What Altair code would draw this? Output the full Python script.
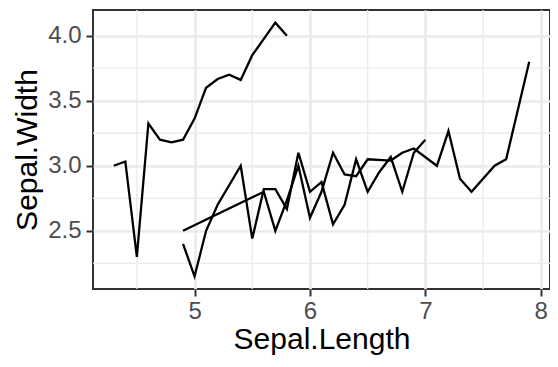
import altair as alt
import pandas as pd

# Mean Sepal.Width per Sepal.Length, by species (iris)
setosa_x = [4.3, 4.4, 4.5, 4.6, 4.7, 4.8, 4.9, 5.0, 5.1, 5.2, 5.3, 5.4, 5.5, 5.7, 5.8]
setosa_y = [3.0, 3.033, 2.3, 3.325, 3.2, 3.18, 3.2, 3.3625, 3.6, 3.667, 3.7, 3.66, 3.85, 4.1, 4.0]

versicolor_x = [4.9, 5.0, 5.1, 5.2, 5.4, 5.5, 5.6, 5.7, 5.8, 5.9, 6.0, 6.1, 6.2, 6.3, 6.4,
                6.5, 6.6, 6.7, 6.8, 6.9, 7.0]
versicolor_y = [2.4, 2.15, 2.5, 2.7, 3.0, 2.44, 2.82, 2.82, 2.667, 3.1, 2.8, 2.875, 2.55, 2.7, 3.05,
                2.8, 2.95, 3.067, 2.8, 3.1, 3.2]

virginica_x = [4.9, 5.6, 5.7, 5.8, 5.9, 6.0, 6.1, 6.2, 6.3, 6.4, 6.5, 6.7, 6.8, 6.9, 7.1,
               7.2, 7.3, 7.4, 7.6, 7.7, 7.9]
virginica_y = [2.5, 2.8, 2.5, 2.733, 3.0, 2.6, 2.8, 3.1, 2.933, 2.92, 3.05, 3.04, 3.1, 3.133, 3.0,
               3.267, 2.9, 2.8, 3.0, 3.05, 3.8]

x_ticks = [5, 6, 7, 8]
y_ticks = [2.5, 3.0, 3.5, 4.0]
minor_x = [4.5, 5.5, 6.5, 7.5]
minor_y = [2.25, 2.75, 3.25, 3.75]

rows = []
for name, xs, ys in [("setosa", setosa_x, setosa_y),
                     ("versicolor", versicolor_x, versicolor_y),
                     ("virginica", virginica_x, virginica_y)]:
    for a, b in zip(xs, ys):
        rows.append({"Species": name, "SL": a, "SW": b})
df = pd.DataFrame(rows)

xdom = [4.12, 8.08]
ydom = [2.0525, 4.1975]

xscale = alt.Scale(domain=xdom, nice=False, zero=False)
yscale = alt.Scale(domain=ydom, nice=False, zero=False)

lines = alt.Chart(df).mark_line(color="black", strokeWidth=2.3, clip=True).encode(
    x=alt.X("SL:Q", scale=xscale,
            axis=alt.Axis(values=x_ticks, title="Sepal.Length", format="d",
                          labelPadding=3, titlePadding=1)),
    y=alt.Y("SW:Q", scale=yscale,
            axis=alt.Axis(values=y_ticks, title="Sepal.Width", format=".1f",
                          labelPadding=5, titlePadding=5)),
    detail="Species:N",
)

mx = alt.Chart(pd.DataFrame({"v": minor_x})).mark_rule(color="#EBEBEB", strokeWidth=1.3).encode(
    x=alt.X("v:Q", scale=xscale)
)
my = alt.Chart(pd.DataFrame({"v": minor_y})).mark_rule(color="#EBEBEB", strokeWidth=1.3).encode(
    y=alt.Y("v:Q", scale=yscale)
)

chart = alt.layer(mx, my, lines).properties(
    width=457, height=279,
    padding={"left": 85, "top": 2, "right": 0, "bottom": 70},
    autosize=alt.AutoSizeParams(type="none"),
).configure_view(
    stroke="#333333", strokeWidth=2
).configure_axis(
    grid=True, gridColor="#EBEBEB", gridWidth=2.7,
    domain=False,
    tickColor="#333333", tickWidth=2, tickSize=7,
    labelColor="#4D4D4D", labelFont="Liberation Sans", labelFontSize=24,
    titleColor="black", titleFont="Liberation Sans", titleFontSize=30, titleFontWeight="normal",
)

chart.save("out.html", embed_options={"renderer": "svg", "actions": False})
